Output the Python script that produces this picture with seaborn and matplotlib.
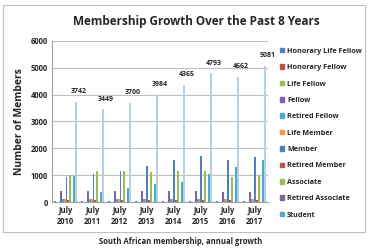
import matplotlib
matplotlib.use('Agg')
import matplotlib.pyplot as plt
import matplotlib.patches as mpatches
import seaborn as sns
import pandas as pd
import numpy as np

years = ['July\n2010', 'July\n2011', 'July\n2012', 'July\n2013',
         'July\n2014', 'July\n2015', 'July\n2016', 'July\n2017']

honorary_life_fellow = [30, 30, 30, 30, 30, 30, 30, 30]
honorary_fellow = [8, 8, 8, 8, 8, 8, 8, 8]
life_fellow = [8, 8, 8, 8, 8, 8, 8, 8]
fellow = [420, 420, 420, 420, 420, 410, 390, 380]
retired_fellow = [120, 120, 120, 120, 120, 120, 120, 120]
life_member = [110, 110, 110, 110, 110, 110, 110, 110]
member = [950, 1060, 1170, 1340, 1580, 1700, 1580, 1690]
retired_member = [80, 80, 80, 80, 80, 80, 80, 80]
associate = [1000, 1140, 1150, 1130, 1170, 1170, 950, 1000]
retired_associate = [10, 10, 10, 10, 10, 10, 10, 10]
student = [980, 380, 530, 660, 760, 1060, 1290, 1570]
total = [3742, 3449, 3700, 3984, 4365, 4793, 4662, 5081]

series = ['Honorary Life Fellow', 'Honorary Fellow', 'Life Fellow', 'Fellow',
          'Retired Fellow', 'Life Member', 'Member', 'Retired Member',
          'Associate', 'Retired Associate', 'Student', 'Total']
values = [honorary_life_fellow, honorary_fellow, life_fellow, fellow,
          retired_fellow, life_member, member, retired_member,
          associate, retired_associate, student, total]

colors = ['#4F81BD', '#C0504D', '#9BBB59', '#8064A2', '#4BACC6', '#F79646',
          '#4F81BD', '#C0504D', '#9BBB59', '#8064A2', '#4BACC6', '#B9CDE5']

rows = []
for name, vals in zip(series, values):
    for y, v in zip(years, vals):
        rows.append({'year': y, 'type': name, 'count': v})
df = pd.DataFrame(rows)

sns.set_style('white')
plt.rcParams['font.family'] = ['Open Sans', 'DejaVu Sans']

fig = plt.figure(figsize=(3.72, 2.5), dpi=100)
ax = fig.add_axes([0.14, 0.192, 0.58, 0.644])

sns.barplot(data=df, x='year', y='count', hue='type', hue_order=series,
            palette=colors, width=0.85, ax=ax, legend=False, saturation=1,
            linewidth=0)

ax.set_ylim(0, 6000)
ax.set_yticks(range(0, 6001, 1000))
ax.yaxis.grid(True, color='#C0C0C0', linewidth=0.8)
ax.set_axisbelow(True)
for s in ['top', 'right']:
    ax.spines[s].set_visible(False)
for s in ['left', 'bottom']:
    ax.spines[s].set_color('#A0A0A0')
    ax.spines[s].set_linewidth(0.8)
ax.tick_params(axis='both', labelsize=5.5, length=0, pad=3)
for lbl in ax.get_xticklabels() + ax.get_yticklabels():
    lbl.set_fontweight('bold')
ax.set_xticks(np.arange(len(years) + 1) - 0.5, minor=True)
ax.tick_params(axis='x', which='minor', length=3, color='#A0A0A0')
ax.set_xlim(-0.5, len(years) - 0.5)
ax.set_xlabel('')
ax.set_ylabel('Number of Members', fontsize=7.5, fontweight='bold', labelpad=4)

# data labels on total bars
total_bars = ax.containers[-1]
for bar, v in zip(total_bars, total):
    ax.text(bar.get_x() + bar.get_width() / 2 + 0.1, v + 250, str(v),
            ha='center', va='bottom', fontsize=5, fontweight='bold')

handles = [mpatches.Patch(color=c, label=n) for n, c in zip(series[:-1], colors[:-1])]
leg = fig.legend(handles=handles, loc='upper left', bbox_to_anchor=(0.735, 0.835),
                 frameon=False, fontsize=5.2, handlelength=0.6, handleheight=0.6,
                 handletextpad=0.4, labelspacing=1.3)
for t in leg.get_texts():
    t.set_fontweight('bold')

fig.text(0.527, 0.915, 'Membership Growth Over the Past 8 Years',
         ha='center', va='center', fontsize=8.5, fontweight='bold')
fig.text(0.485, 0.035, 'South African membership, annual growth',
         ha='center', va='center', fontsize=5.5, fontweight='bold')

border = mpatches.Rectangle((0.008, 0.072), 0.973, 0.908, transform=fig.transFigure,
                            fill=False, edgecolor='#BFBFBF', linewidth=0.8)
fig.add_artist(border)

plt.savefig('out.png', dpi=100)
